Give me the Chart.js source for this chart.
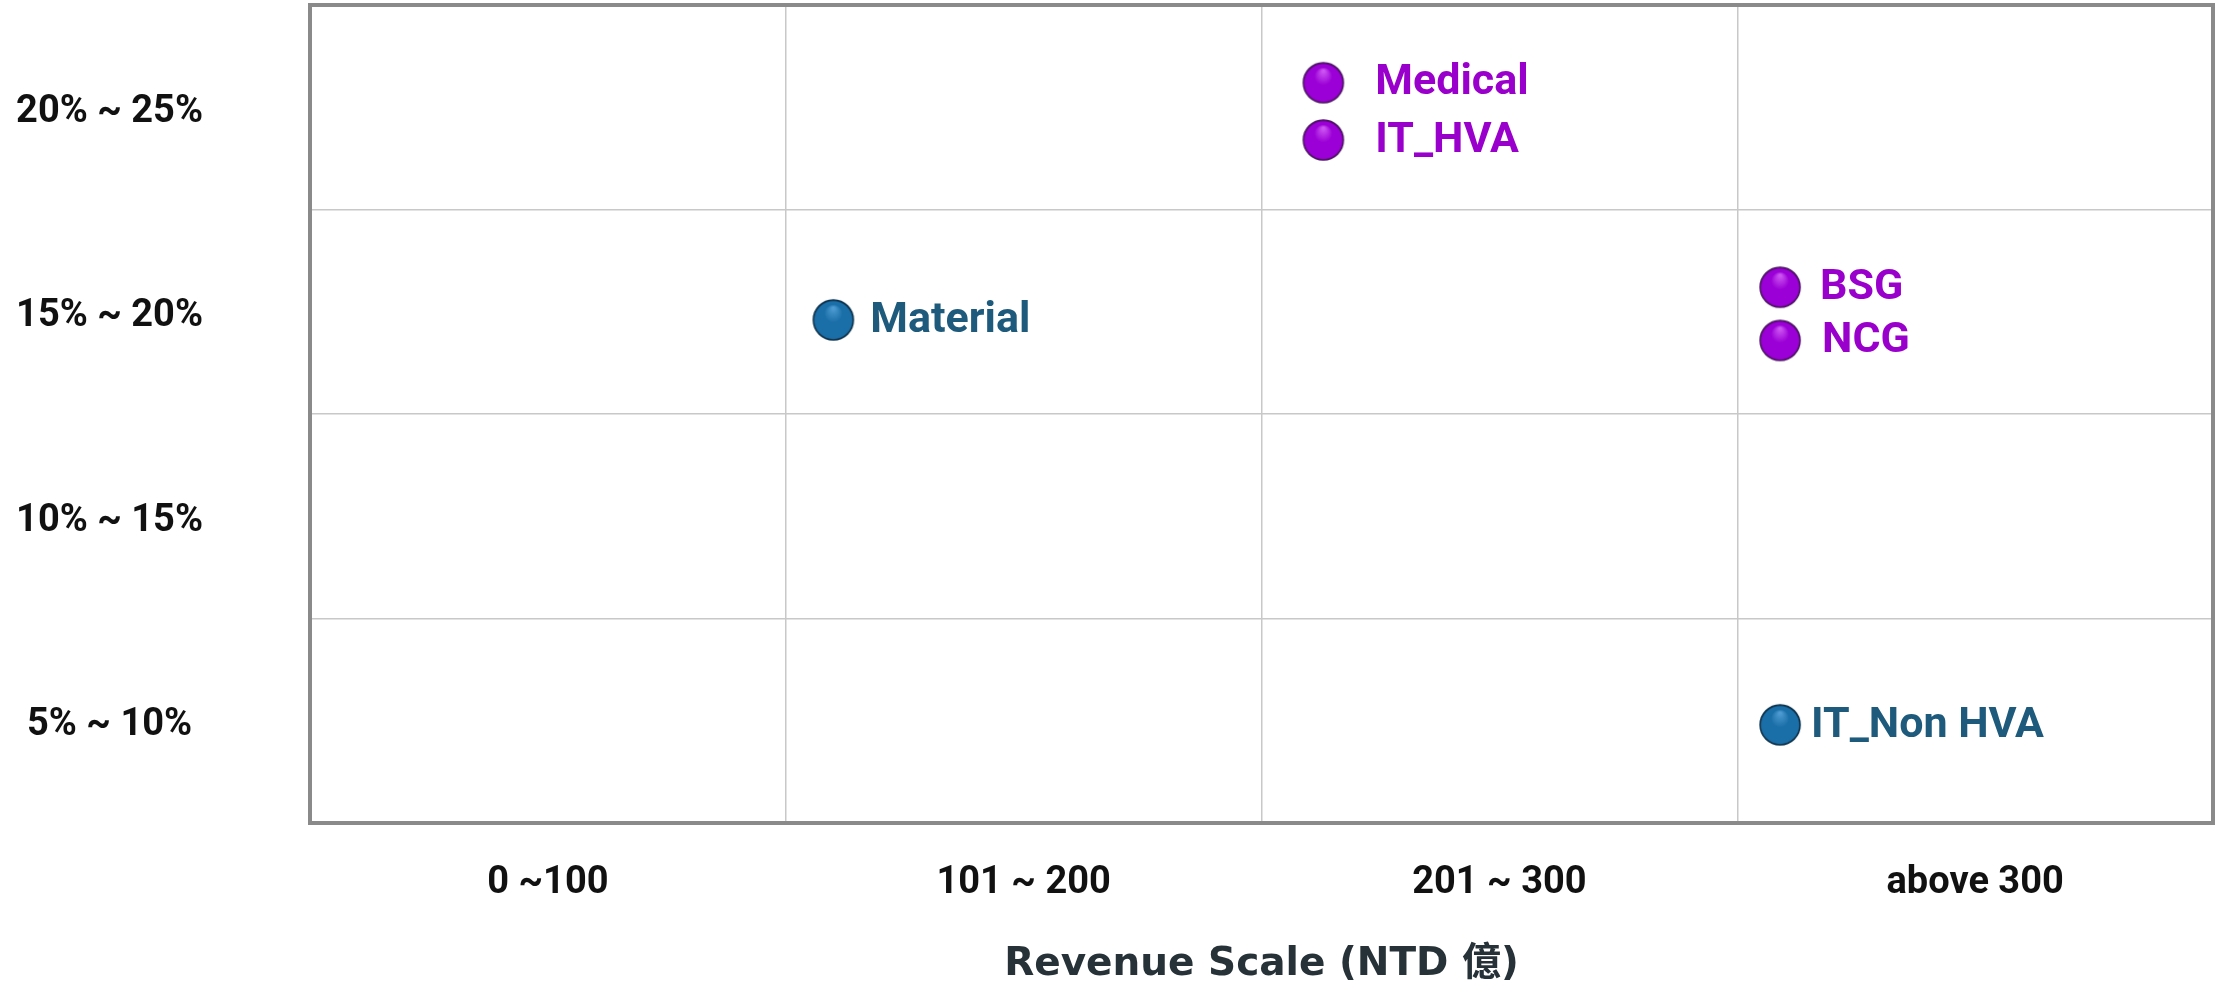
<!DOCTYPE html>
<html>
<head>
<meta charset="utf-8">
<script src="https://cdn.jsdelivr.net/npm/chart.js@4.4.1/dist/chart.umd.min.js"></script>
<style>
  html, body { margin: 0; padding: 0; background: #fff; }
  #wrap { width: 2218px; height: 988px; }
</style>
</head>
<body>
<div id="wrap"><canvas id="chart"></canvas></div>
<script>
// band labels (y listed top to bottom)
const revenueBands = ['0 ~100', '101 ~ 200', '201 ~ 300', 'above 300'];
const marginBands = ['20% ~ 25%', '15% ~ 20%', '10% ~ 15%', '5% ~ 10%'];

// purple group
const highNames = ['Medical', 'IT_HVA', 'BSG', 'NCG'];
const highRevenue = [213, 213, 309, 309];
const highMargin = [23.1, 21.7, 18.1, 16.8];

// blue group
const lowNames = ['Material', 'IT_Non HVA'];
const lowRevenue = [110, 309];
const lowMargin = [17.3, 7.4];

// label gap from marker centre (style only)
const highGap = [52, 52, 40, 42];
const lowGap = [37, 31];

function sphere(light, base, dark, edge, r) {
  const c = document.createElement('canvas');
  const s = r * 2 + 4;
  c.width = c.height = s;
  const g = c.getContext('2d');
  const cx = s / 2;
  const grad = g.createRadialGradient(cx, cx - r * 0.6, r * 0.05, cx, cx + r * 0.1, r * 1.05);
  grad.addColorStop(0, light);
  grad.addColorStop(0.4, base);
  grad.addColorStop(0.85, base);
  grad.addColorStop(1, dark);
  g.beginPath();
  g.arc(cx, cx, r, 0, Math.PI * 2);
  g.fillStyle = grad;
  g.fill();
  g.lineWidth = 1.5;
  g.strokeStyle = edge;
  g.stroke();
  return c;
}

const purpleBall = sphere('#cc55f2', '#9b00d6', '#6d0099', '#4b1560', 20);
const blueBall = sphere('#4d9bd2', '#1b6fa8', '#0e4c7a', '#0b2f48', 20);

const toPoints = (xs, ys) => xs.map((x, i) => ({ x, y: ys[i] }));

const frame = {
  id: 'frame',
  beforeDatasetsDraw(chart) {
    const { ctx, chartArea: a } = chart;
    ctx.save();
    ctx.strokeStyle = '#8a8a8a';
    ctx.lineWidth = 4;
    ctx.strokeRect(a.left, a.top, a.right - a.left, a.bottom - a.top);
    ctx.restore();
  }
};

const pointLabels = {
  id: 'pointLabels',
  afterDatasetsDraw(chart) {
    const ctx = chart.ctx;
    chart.data.datasets.forEach((ds, i) => {
      chart.getDatasetMeta(i).data.forEach((pt, j) => {
        ctx.save();
        ctx.font = 'bold 43px Roboto';
        ctx.fillStyle = ds.labelColor;
        ctx.textBaseline = 'middle';
        ctx.fillText(ds.names[j], pt.x + ds.gaps[j], pt.y + 1);
        ctx.restore();
      });
    });
  }
};

const tickFont = { family: 'Roboto', weight: 'bold', size: 38 };
const gridStyle = { color: '#c8c8c8', lineWidth: 1.5, drawTicks: false };

new Chart(document.getElementById('chart'), {
  type: 'scatter',
  data: {
    datasets: [
      {
        label: 'high',
        data: toPoints(highRevenue, highMargin),
        names: highNames,
        gaps: highGap,
        labelColor: '#9a00cc',
        pointStyle: purpleBall,
        xAxisID: 'x',
        yAxisID: 'y'
      },
      {
        label: 'low',
        data: toPoints(lowRevenue, lowMargin),
        names: lowNames,
        gaps: lowGap,
        labelColor: '#1d5a7c',
        pointStyle: blueBall,
        xAxisID: 'x',
        yAxisID: 'y'
      }
    ]
  },
  options: {
    responsive: true,
    maintainAspectRatio: false,
    animation: false,
    layout: { padding: { top: 5, right: 4, left: 0, bottom: 0 } },
    plugins: { legend: { display: false }, tooltip: { enabled: false } },
    scales: {
      x: {
        type: 'linear', min: 0, max: 400, position: 'bottom',
        ticks: { display: false, stepSize: 100 },
        grid: gridStyle,
        border: { display: false }
      },
      y: {
        type: 'linear', min: 5, max: 25, position: 'left',
        ticks: { display: false, stepSize: 5 },
        grid: gridStyle,
        border: { display: false }
      },
      xBand: {
        type: 'category', labels: revenueBands, position: 'bottom', offset: true,
        grid: { display: false, drawTicks: false },
        border: { display: false },
        ticks: { font: tickFont, color: '#111', padding: 38, maxRotation: 0 },
        title: {
          display: true,
          text: 'Revenue Scale (NTD 億)',
          color: '#263238',
          font: { family: "'DejaVu Sans', 'Noto Sans CJK TC'", weight: 'bold', size: 39 },
          padding: { top: 0, bottom: 0 }
        },
        afterFit: s => { s.height = 165; s.paddingLeft = 0; s.paddingRight = 0; }
      },
      yBand: {
        type: 'category', labels: marginBands, position: 'left', offset: true,
        grid: { display: false, drawTicks: false },
        border: { display: false },
        ticks: { font: tickFont, color: '#111', padding: 107, crossAlign: 'center', labelOffset: 5 },
        afterFit: s => { s.width = 310; s.paddingTop = 0; s.paddingBottom = 0; }
      }
    }
  },
  plugins: [frame, pointLabels]
});
</script>
</body>
</html>
